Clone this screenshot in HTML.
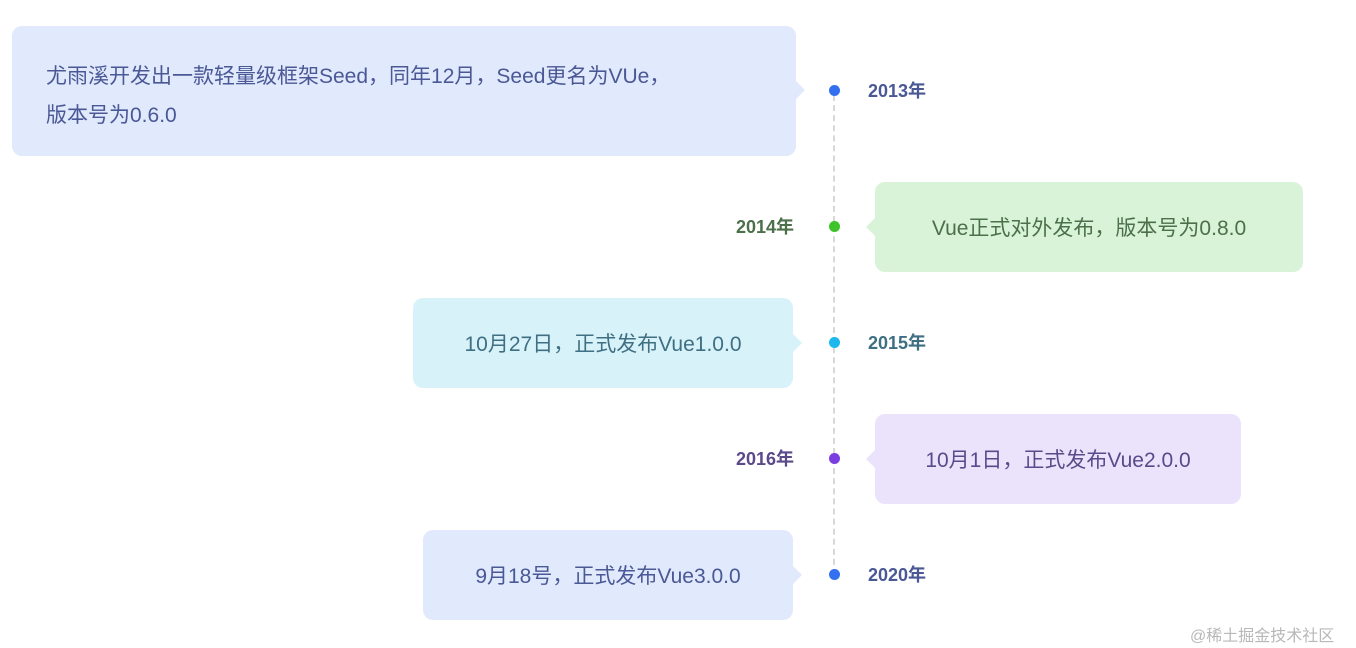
<!DOCTYPE html>
<html><head><meta charset="utf-8"><style>
body{margin:0;width:1356px;height:648px;background:#fff;position:relative;overflow:hidden;font-family:"Liberation Sans","Noto Sans CJK SC",sans-serif}
.b{position:absolute;border-radius:10px;font-size:21px;box-sizing:border-box}
.b.c{display:flex;align-items:center;justify-content:center}
.t{position:absolute;width:0;height:0;border-top:9px solid transparent;border-bottom:9px solid transparent}
.d{position:absolute;width:11px;height:11px;border-radius:50%;left:829px}
.y{position:absolute;font-size:18px;font-weight:bold;line-height:20px}
.line{position:absolute;left:833px;top:95px;height:480px;border-left:2px dashed #d8d8d8}
</style></head><body>
<div class="line"></div>

<div class="b" style="left:12px;top:26px;width:784px;height:130px;background:#e1e9fc;color:#4a5896;padding:31px 0 0 34px;line-height:39px">尤雨溪开发出一款轻量级框架Seed，同年12月，Seed更名为VUe，<br>版本号为0.6.0</div>
<div class="t" style="left:796px;top:81px;border-left:9px solid #e1e9fc"></div>
<div class="d" style="top:85px;background:#3370f0"></div>
<div class="y" style="left:868px;top:81px;color:#4a5896">2013年</div>

<div class="b c" style="left:875px;top:182px;width:428px;height:90px;background:#d9f3d8;color:#4c7049">Vue正式对外发布，版本号为0.8.0</div>
<div class="t" style="left:866px;top:218px;border-right:9px solid #d9f3d8"></div>
<div class="d" style="top:221px;background:#3cc42a"></div>
<div class="y" style="left:736px;top:217px;color:#4c7049">2014年</div>

<div class="b c" style="left:413px;top:298px;width:380px;height:90px;background:#d8f2fa;color:#3f6f82">10月27日，正式发布Vue1.0.0</div>
<div class="t" style="left:793px;top:334px;border-left:9px solid #d8f2fa"></div>
<div class="d" style="top:337px;background:#1fb8ec"></div>
<div class="y" style="left:868px;top:333px;color:#3f6f82">2015年</div>

<div class="b c" style="left:875px;top:414px;width:366px;height:90px;background:#ebe3fb;color:#5a4a8a">10月1日，正式发布Vue2.0.0</div>
<div class="t" style="left:866px;top:450px;border-right:9px solid #ebe3fb"></div>
<div class="d" style="top:453px;background:#7a3ee0"></div>
<div class="y" style="left:736px;top:449px;color:#5a4a8a">2016年</div>

<div class="b c" style="left:423px;top:530px;width:370px;height:90px;background:#e1e9fc;color:#4a5896">9月18号，正式发布Vue3.0.0</div>
<div class="t" style="left:793px;top:566px;border-left:9px solid #e1e9fc"></div>
<div class="d" style="top:569px;background:#3370f0"></div>
<div class="y" style="left:868px;top:565px;color:#4a5896">2020年</div>

<div style="position:absolute;left:1190px;top:622px;font-size:16px;color:#b8b8b8">@稀土掘金技术社区</div>
</body></html>
